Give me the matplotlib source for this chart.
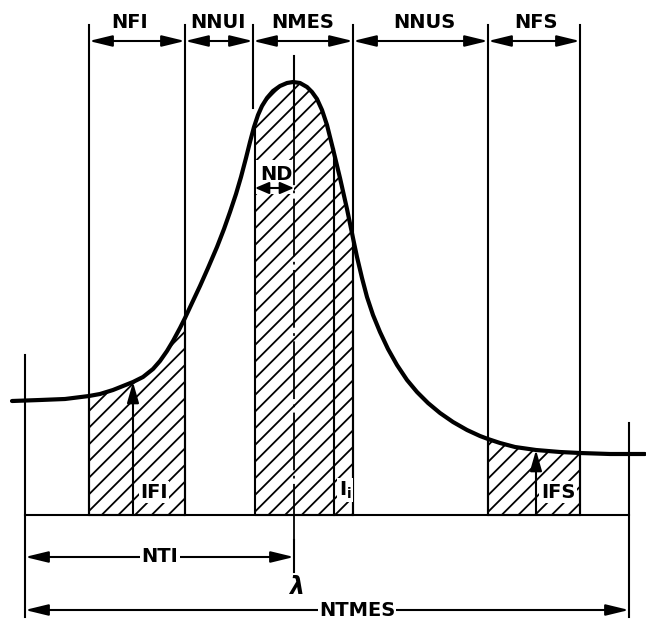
import numpy as np
import matplotlib.pyplot as plt
from matplotlib.patches import Rectangle

plt.rcParams['hatch.linewidth'] = 1.3
plt.rcParams['mathtext.fontset'] = 'dejavusans'

# Line profile (x, y in picture units, y grows downward)
curve_x = [12, 40, 65, 89, 100, 113, 123, 133, 143, 153, 160, 167, 173, 180, 185,
           192, 200, 208, 217, 224, 230, 236, 241, 246, 250, 254, 255, 258, 262,
           267, 273, 280, 287, 293, 300, 307, 312, 317, 322, 327, 333, 340, 347,
           353, 357, 362, 367, 373, 380, 388, 397, 407, 417, 428, 440, 453, 467,
           480, 488, 500, 515, 536, 560, 580, 610, 645]
curve_y = [401, 400, 399, 396, 394, 390, 386, 382, 377, 369, 361, 351, 341, 328, 318,
           303, 286, 268, 247, 229, 212, 194, 177, 158, 142, 127, 124, 115, 106,
           98, 91, 86, 83, 82, 83, 87, 92, 99, 110, 125, 149, 178, 209,
           238, 257, 278, 297, 315, 332, 349, 365, 380, 392, 403, 413, 422, 430,
           436, 439, 443, 447, 450, 452, 453, 454, 454]

baseline = 515
left_end, right_end = 25, 629
peak_x = 294

# band boundaries and labels along the top
band_edges = [89, 185, 253, 353, 488, 580]
band_labels = ['NFI', 'NNUI', 'NMES', 'NNUS', 'NFS']
band_label_x = [130, 218, 303, 424, 536]

# hatched (measured) windows
hatched = [(89, 185), (255, 353), (488, 580)]

# intensity markers inside the windows: label, x, top of arrow, label x
markers = [('IFI', 133, 382, 154), ('IFS', 536, 450, 558)]
ii_x = 334

cx = np.array(curve_x)
cy = np.array(curve_y)

fig = plt.figure(figsize=(6.46, 6.21), dpi=100)
ax = fig.add_axes([0, 0, 1, 1])
ax.set_xlim(0, 646)
ax.set_ylim(621, 0)
ax.axis('off')

font = dict(family='DejaVu Sans', fontweight='bold', fontsize=14, color='black')
lw = 1.5


def dim_arrow(a, b, y, scale=20, hl=0.7, hw=0.17):
    ax.annotate('', xy=(b, y), xytext=(a, y),
                arrowprops=dict(arrowstyle=f'<|-|>,head_length={hl},head_width={hw}',
                                mutation_scale=scale, lw=lw, color='black',
                                shrinkA=0, shrinkB=0), zorder=7)


# hatched windows
for a, b in hatched:
    m = (cx >= a) & (cx <= b)
    ax.fill_between(cx[m], cy[m], baseline, facecolor='white', edgecolor='black',
                    hatch='//', lw=lw, zorder=2)

# vertical band boundaries
for x in band_edges:
    if x == 253:
        ax.plot([x, x], [25, 108], color='black', lw=lw, zorder=3)
    else:
        ax.plot([x, x], [25, baseline], color='black', lw=lw, zorder=3)

# top dimension arrows and labels
for i, lab in enumerate(band_labels):
    dim_arrow(band_edges[i], band_edges[i + 1], 41)
    ax.text(band_label_x[i], 22, lab, ha='center', va='center', **font)

# baseline and outer limits
ax.plot([left_end, right_end], [baseline, baseline], color='black', lw=lw)
ax.plot([left_end, left_end], [355, 617], color='black', lw=lw)
ax.plot([right_end, right_end], [423, 617], color='black', lw=lw)

# white window for ND inside the hatch
ax.add_patch(Rectangle((256, 160), 38, 34, facecolor='white', edgecolor='none', zorder=3))

# centre line at lambda
ax.plot([peak_x, peak_x], [56, 540], color='black', lw=1.3,
        linestyle=(0, (32, 3, 1.5, 3)), zorder=4)
ax.plot([peak_x, peak_x], [56, 130], color='black', lw=1.5, zorder=4)
ax.plot([peak_x, peak_x], [540, 572], color='black', lw=1.5, zorder=4)

# profile curve
ax.plot(cx, cy, color='black', lw=3, solid_capstyle='round',
        solid_joinstyle='round', zorder=5)

# ND half width
dim_arrow(255, peak_x, 188, scale=12, hl=0.7, hw=0.3)
ax.text(276, 174, 'ND', ha='center', va='center', zorder=6, **font)

# intensity markers
for lab, x, ytop, lx in markers:
    ax.annotate('', xy=(x, ytop), xytext=(x, baseline),
                arrowprops=dict(arrowstyle='-|>,head_length=0.7,head_width=0.2',
                                mutation_scale=18, lw=lw, color='black',
                                shrinkA=0, shrinkB=0), zorder=6)
    ax.text(lx, 492, lab, ha='center', va='center', zorder=6,
            bbox=dict(facecolor='white', edgecolor='none', pad=1), **font)

m = np.argmin(np.abs(cx - ii_x))
ax.plot([ii_x, ii_x], [cy[m], baseline], color='black', lw=lw, zorder=4)
ax.text(345, 490, r'$\mathbf{I_i}$', ha='center', va='center', zorder=6,
        fontsize=14, bbox=dict(facecolor='white', edgecolor='none', pad=1))

# bottom dimensions
dim_arrow(left_end, peak_x, 557)
ax.text(160, 557, 'NTI', ha='center', va='center', zorder=8,
        bbox=dict(facecolor='white', edgecolor='none', pad=1), **font)
dim_arrow(left_end, right_end, 610)
ax.text(357, 610, 'NTMES', ha='center', va='center', zorder=8,
        bbox=dict(facecolor='white', edgecolor='none', pad=1), **font)

ax.text(297, 587, 'λ', ha='center', va='center', family='DejaVu Sans',
        fontstyle='oblique', fontweight='bold', fontsize=17)

fig.savefig('out.png', dpi=100)
